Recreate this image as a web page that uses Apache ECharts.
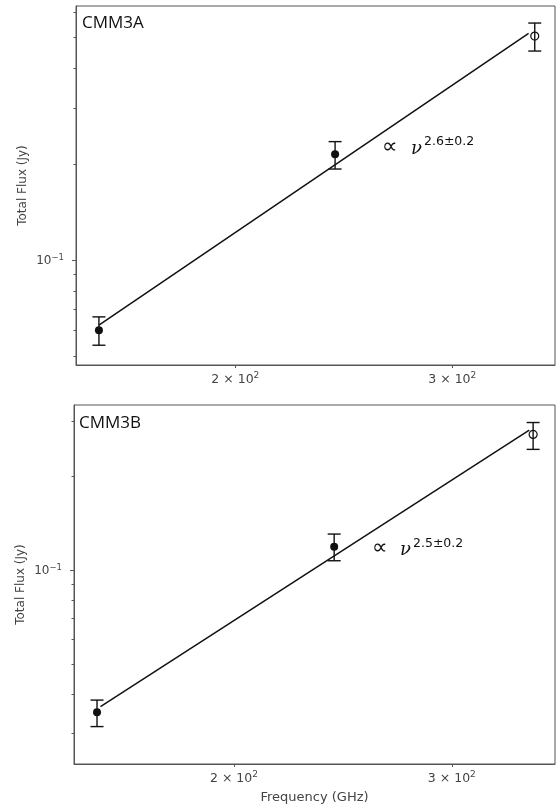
<!DOCTYPE html>
<html>
<head>
<meta charset="utf-8">
<script src="https://cdn.jsdelivr.net/npm/echarts@6/dist/echarts.min.js"></script>
<style>
  html, body { margin: 0; padding: 0; background: #fff; }
  #chart { width: 556px; height: 807px; }
</style>
</head>
<body>
<div id="chart"></div>
<script>
// ---------- data ----------
const freqA = [155, 241, 350];
const fluxA = [0.0602, 0.215, 0.506];
const errLowA = [0.0540, 0.1933, 0.454];
const errHighA = [0.0663, 0.2357, 0.556];
const fitFreqA = [155, 346];
const fitFluxA = [0.0625, 0.516];

const freqB = [155, 241, 349];
const fluxB = [0.0350, 0.1188, 0.272];
const errLowB = [0.0315, 0.1071, 0.2436];
const errHighB = [0.0383, 0.1304, 0.297];
const fitFreqB = [156, 346.5];
const fitFluxB = [0.0365, 0.281];

const hollow = [false, false, true];   // last point drawn as open circle

const xTickValues = [200, 300];
const xTickBase = ['2 × 10', '3 × 10'];
const xTickExp = ['2', '2'];
const yMajorValues = [0.1];
const yMajorBase = ['10'];
const yMajorExp = ['−1'];
const yMinorA = [0.05, 0.06, 0.07, 0.08, 0.09, 0.2, 0.3, 0.4, 0.5, 0.6];
const yMinorB = [0.03, 0.04, 0.05, 0.06, 0.07, 0.08, 0.09, 0.2, 0.3];

const labelA = 'CMM3A';
const labelB = 'CMM3B';
const fitLabelA = '2.6±0.2';
const fitLabelB = '2.5±0.2';

// ---------- helpers ----------
const INK = '#111';
const FRAME = '#555';
const TXT = '#444';

const supRich = (size, supSize, lh) => ({
  b: { fontFamily: 'DejaVu Sans', fontSize: size, color: TXT, lineHeight: lh, verticalAlign: 'bottom' },
  s: { fontFamily: 'DejaVu Sans', fontSize: supSize, color: TXT, lineHeight: supSize + 1, verticalAlign: 'top' }
});

function xAxisDef(gridIndex, showName) {
  return {
    type: 'log', gridIndex, min: 148.5, max: 363.5,
    axisLine: { show: true, onZero: false, lineStyle: { color: FRAME, width: 1 } },
    axisTick: { show: true, length: 3, lineStyle: { color: FRAME }, customValues: xTickValues },
    axisLabel: {
      show: true, customValues: xTickValues, margin: 6,
      rich: supRich(12.5, 9, 15),
      formatter: v => {
        const i = xTickValues.findIndex(t => Math.abs(t - v) < 1e-6);
        return i >= 0 ? '{b|' + xTickBase[i] + '}{s|' + xTickExp[i] + '}' : '';
      }
    },
    splitLine: { show: false },
    name: showName ? 'Frequency (GHz)' : '',
    nameLocation: 'middle', nameGap: 27, nameMoveOverlap: false,
    nameTextStyle: { fontFamily: 'DejaVu Sans', fontSize: 13, color: TXT }
  };
}
function yAxisDefMajor(gridIndex, min, max) {
  return {
    type: 'log', gridIndex, min, max, position: 'left',
    axisLine: { show: true, lineStyle: { color: FRAME, width: 1 } },
    axisTick: { show: true, length: 4, lineStyle: { color: FRAME }, customValues: yMajorValues },
    axisLabel: {
      show: true, customValues: yMajorValues, margin: 12,
      rich: supRich(12, 8.5, 14),
      formatter: v => {
        const i = yMajorValues.findIndex(t => Math.abs(t - v) < 1e-9);
        return i >= 0 ? '{b|' + yMajorBase[i] + '}{s|' + yMajorExp[i] + '}' : '';
      }
    },
    splitLine: { show: false },
    name: 'Total Flux (Jy)', nameLocation: 'middle', nameGap: 47, nameMoveOverlap: false,
    nameTextStyle: { fontFamily: 'DejaVu Sans', fontSize: 12, color: TXT }
  };
}
function yAxisDefMinor(gridIndex, min, max, minors) {
  return {
    type: 'log', gridIndex, min, max, position: 'left', offset: 0,
    axisLine: { show: false },
    axisTick: { show: true, length: 2.5, lineStyle: { color: FRAME }, customValues: minors },
    axisLabel: { show: false },
    splitLine: { show: false }
  };
}
function errorSeries(xi, yi, fr, lo, hi) {
  return {
    type: 'custom', xAxisIndex: xi, yAxisIndex: yi, z: 3,
    data: fr.map((f, i) => [f, lo[i], hi[i]]),
    encode: { x: 0, y: [1, 2] },
    renderItem: (params, api) => {
      const x = api.value(0);
      const pLo = api.coord([x, api.value(1)]);
      const pHi = api.coord([x, api.value(2)]);
      const w = 6.5;
      const st = { stroke: INK, lineWidth: 1.4 };
      return { type: 'group', children: [
        { type: 'line', shape: { x1: pLo[0], y1: pLo[1], x2: pHi[0], y2: pHi[1] }, style: st },
        { type: 'line', shape: { x1: pLo[0] - w, y1: pLo[1], x2: pLo[0] + w, y2: pLo[1] }, style: st },
        { type: 'line', shape: { x1: pHi[0] - w, y1: pHi[1], x2: pHi[0] + w, y2: pHi[1] }, style: st }
      ]};
    }
  };
}
function pointSeries(xi, yi, fr, fl) {
  return {
    type: 'scatter', xAxisIndex: xi, yAxisIndex: yi, z: 4,
    symbol: 'circle', symbolSize: 8,
    data: fr.map((f, i) => ({
      value: [f, fl[i]],
      itemStyle: hollow[i]
        ? { color: 'rgba(255,255,255,0)', borderColor: INK, borderWidth: 1.2, opacity: 1 }
        : { color: INK, borderColor: INK, borderWidth: 0, opacity: 1 }
    }))
  };
}
function fitSeries(xi, yi, fr, fl) {
  return {
    type: 'line', xAxisIndex: xi, yAxisIndex: yi, z: 2,
    symbol: 'none', lineStyle: { color: INK, width: 1.5 },
    data: fr.map((f, i) => [f, fl[i]])
  };
}

const chart = echarts.init(document.getElementById('chart'), null, { renderer: 'canvas' });
chart.setOption({
  backgroundColor: '#fff',
  animation: false,
  grid: [
    { left: 76, top: 6, right: 1, height: 359, show: true, borderColor: FRAME, borderWidth: 1, backgroundColor: 'transparent' },
    { left: 74, top: 405, right: 1, height: 359, show: true, borderColor: FRAME, borderWidth: 1, backgroundColor: 'transparent' }
  ],
  xAxis: [xAxisDef(0, false), xAxisDef(1, true)],
  yAxis: [
    yAxisDefMajor(0, 0.0468, 0.629),
    yAxisDefMinor(0, 0.0468, 0.629, yMinorA),
    yAxisDefMajor(1, 0.0239, 0.338),
    yAxisDefMinor(1, 0.0239, 0.338, yMinorB)
  ],
  series: [
    fitSeries(0, 0, fitFreqA, fitFluxA),
    errorSeries(0, 0, freqA, errLowA, errHighA),
    pointSeries(0, 0, freqA, fluxA),
    fitSeries(1, 2, fitFreqB, fitFluxB),
    errorSeries(1, 2, freqB, errLowB, errHighB),
    pointSeries(1, 2, freqB, fluxB)
  ],
  graphic: [
    { type: 'text', left: 82, top: 15, style: { text: labelA, fontFamily: 'Open Sans', fontSize: 17, fill: '#111' } },
    { type: 'text', left: 79, top: 415, style: { text: labelB, fontFamily: 'Open Sans', fontSize: 17, fill: '#111' } },
    { type: 'text', x: 382, y: 147, style: { text: '∝', fontFamily: 'DejaVu Sans', fontSize: 22, fill: '#111', verticalAlign: 'middle' } },
    { type: 'text', x: 411, y: 149, style: { text: 'ν', fontFamily: 'DejaVu Serif', fontStyle: 'italic', fontSize: 18, fill: '#111', verticalAlign: 'middle' } },
    { type: 'text', x: 424, y: 142, style: { text: fitLabelA, fontFamily: 'DejaVu Sans', fontSize: 12.5, fill: '#111', verticalAlign: 'middle' } },
    { type: 'text', x: 372, y: 548, style: { text: '∝', fontFamily: 'DejaVu Sans', fontSize: 22, fill: '#111', verticalAlign: 'middle' } },
    { type: 'text', x: 400, y: 550, style: { text: 'ν', fontFamily: 'DejaVu Serif', fontStyle: 'italic', fontSize: 18, fill: '#111', verticalAlign: 'middle' } },
    { type: 'text', x: 413, y: 544, style: { text: fitLabelB, fontFamily: 'DejaVu Sans', fontSize: 12.5, fill: '#111', verticalAlign: 'middle' } }
  ]
});
</script>
</body>
</html>
